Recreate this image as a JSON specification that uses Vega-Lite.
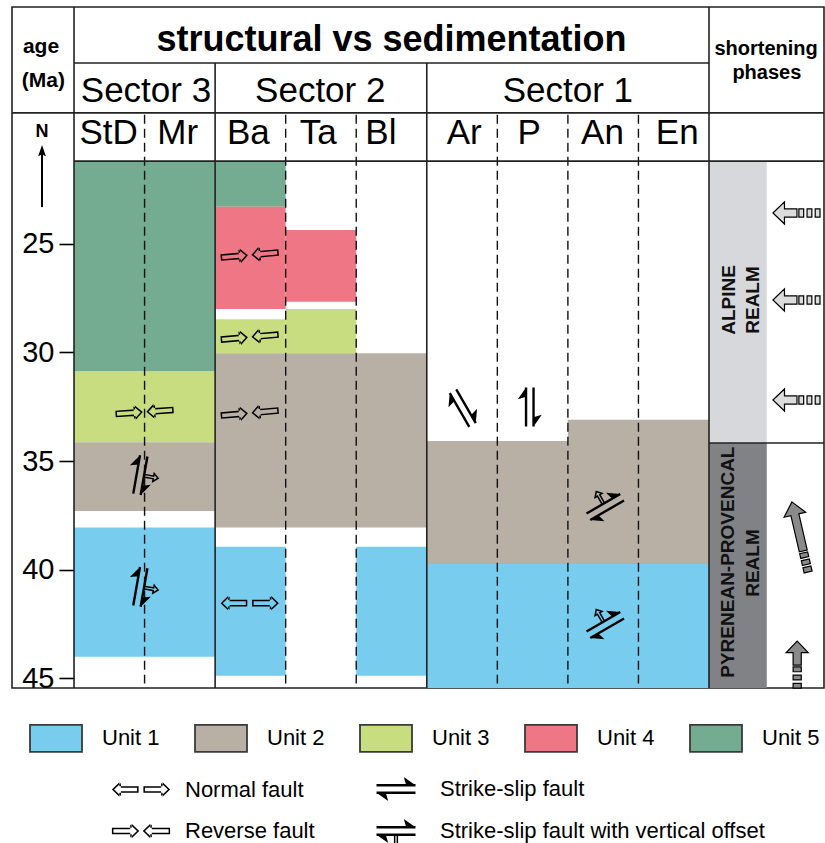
{
  "$schema": "https://vega.github.io/schema/vega-lite/v6.json",
  "width": 812,
  "height": 681,
  "autosize": {"type": "none"},
  "padding": {"left": 12, "top": 7, "right": 1, "bottom": 155},
  "background": "white",
  "config": {
    "view": {"stroke": "#222", "strokeWidth": 1.6},
    "font": "Liberation Sans",
    "axisY": {"domain": false, "grid": false, "tickColor": "black", "tickWidth": 1.6, "tickSize": 15, "labelFontSize": 29, "labelColor": "black", "labelPadding": 5, "labelFont": "Liberation Sans"}
  },
  "datasets": {
    "units": [
      {"unit": "Unit 5", "col": 0, "col2": 2, "age": 21.18, "age2": 30.88},
      {"unit": "Unit 3", "col": 0, "col2": 2, "age": 30.88, "age2": 34.14},
      {"unit": "Unit 2", "col": 0, "col2": 2, "age": 34.14, "age2": 37.3},
      {"unit": "Unit 1", "col": 0, "col2": 2, "age": 38.07, "age2": 44.02},
      {"unit": "Unit 5", "col": 2, "col2": 3, "age": 21.18, "age2": 23.28},
      {"unit": "Unit 4", "col": 2, "col2": 3, "age": 23.28, "age2": 28.0},
      {"unit": "Unit 3", "col": 2, "col2": 3, "age": 28.47, "age2": 30.04},
      {"unit": "Unit 4", "col": 3, "col2": 4, "age": 24.35, "age2": 27.66},
      {"unit": "Unit 3", "col": 3, "col2": 4, "age": 28.0, "age2": 30.04},
      {"unit": "Unit 2", "col": 2, "col2": 5, "age": 30.04, "age2": 38.07},
      {"unit": "Unit 1", "col": 2, "col2": 3, "age": 38.95, "age2": 44.9},
      {"unit": "Unit 1", "col": 4, "col2": 5, "age": 38.95, "age2": 44.9},
      {"unit": "Unit 2", "col": 5, "col2": 7, "age": 34.08, "age2": 39.75},
      {"unit": "Unit 2", "col": 7, "col2": 9, "age": 33.1, "age2": 39.75},
      {"unit": "Unit 1", "col": 5, "col2": 9, "age": 39.75, "age2": 45.46}
    ],
    "realms": [
      {"realm": "Alpine", "col": 9, "col2": 9.819, "age": 21.18, "age2": 34.17},
      {"realm": "Pyrenean-Provencal", "col": 9, "col2": 9.819, "age": 34.17, "age2": 45.46}
    ],
    "frame": [
      {"col": 0, "col2": 0, "age": 14.08, "age2": 45.46},
      {"col": 9, "col2": 9, "age": 14.08, "age2": 45.46},
      {"col": 2, "col2": 2, "age": 16.66, "age2": 45.46},
      {"col": 5, "col2": 5, "age": 16.66, "age2": 45.46},
      {"col": 0, "col2": 9, "age": 16.66, "age2": 16.66},
      {"col": -0.879, "col2": 10.63, "age": 18.96, "age2": 18.96},
      {"col": 0, "col2": 10.63, "age": 21.18, "age2": 21.18},
      {"col": 9, "col2": 10.63, "age": 34.17, "age2": 34.17}
    ],
    "boundaries": [
      {"col": 1, "age": 19.05, "age2": 45.25},
      {"col": 3, "age": 19.05, "age2": 45.25},
      {"col": 4, "age": 19.05, "age2": 45.25},
      {"col": 6, "age": 19.05, "age2": 45.25},
      {"col": 7, "age": 19.05, "age2": 45.25},
      {"col": 8, "age": 19.05, "age2": 45.25}
    ],
    "headers": [
      {"text": "structural vs sedimentation", "level": "title", "col": 4.5, "age": 15.6},
      {"text": "Sector 3", "level": "sector", "col": 1.02, "age": 17.96},
      {"text": "Sector 2", "level": "sector", "col": 3.49, "age": 17.96},
      {"text": "Sector 1", "level": "sector", "col": 7.0, "age": 17.96},
      {"text": "StD", "level": "site", "col": 0.49, "age": 19.88},
      {"text": "Mr", "level": "site", "col": 1.47, "age": 19.88},
      {"text": "Ba", "level": "site", "col": 2.47, "age": 19.88},
      {"text": "Ta", "level": "site", "col": 3.46, "age": 19.88},
      {"text": "Bl", "level": "site", "col": 4.35, "age": 19.88},
      {"text": "Ar", "level": "site", "col": 5.53, "age": 19.88},
      {"text": "P", "level": "site", "col": 6.45, "age": 19.88},
      {"text": "An", "level": "site", "col": 7.49, "age": 19.88},
      {"text": "En", "level": "site", "col": 8.55, "age": 19.88},
      {"text": "age", "level": "agehead", "col": -0.468, "age": 15.92},
      {"text": "(Ma)", "level": "agehead", "col": -0.435, "age": 17.49},
      {"text": "shortening", "level": "phases", "col": 9.81, "age": 16.01},
      {"text": "phases", "level": "phases", "col": 9.82, "age": 17.11},
      {"text": "N", "level": "north", "col": -0.4536, "age": 19.82},
      {"text": "ALPINE", "level": "realm", "col": 9.289, "age": 27.58},
      {"text": "REALM", "level": "realm", "col": 9.621, "age": 27.58},
      {"text": "PYRENEAN-PROVENCAL", "level": "realm", "col": 9.264, "age": 39.66},
      {"text": "REALM", "level": "realm", "col": 9.618, "age": 39.7}
    ],
    "north": [
      {"col": -0.4536, "age": 20.76, "age2": 23.3}
    ],
    "faults": [
      {"fault": "Reverse fault", "col": 1.0, "age": 32.74, "angle": -4},
      {"fault": "Reverse fault", "col": 2.49, "age": 25.51, "angle": -5},
      {"fault": "Reverse fault", "col": 2.49, "age": 29.29, "angle": -5},
      {"fault": "Reverse fault", "col": 2.49, "age": 32.79, "angle": -5},
      {"fault": "Normal fault", "col": 2.49, "age": 41.55, "angle": 0},
      {"fault": "Strike-slip fault with vertical offset", "col": 0.94, "age": 35.65, "angle": 280},
      {"fault": "Strike-slip fault with vertical offset", "col": 0.94, "age": 40.8, "angle": 280},
      {"fault": "Strike-slip fault with vertical offset", "col": 7.53, "age": 37.12, "angle": 150},
      {"fault": "Strike-slip fault with vertical offset", "col": 7.53, "age": 42.56, "angle": 150},
      {"fault": "Strike-slip fault", "col": 5.51, "age": 32.56, "angle": 60},
      {"fault": "Strike-slip fault", "col": 6.46, "age": 32.51, "angle": 270}
    ],
    "push": [
      {"realm": "Alpine", "col": 10.24, "age": 23.57, "angle": 0},
      {"realm": "Alpine", "col": 10.24, "age": 27.58, "angle": 0},
      {"realm": "Alpine", "col": 10.24, "age": 32.19, "angle": 0},
      {"realm": "Pyrenean-Provencal", "col": 10.29, "age": 38.5, "angle": 77},
      {"realm": "Pyrenean-Provencal", "col": 10.25, "age": 44.38, "angle": 90}
    ]
  },
  "encoding": {
    "x": {"field": "col", "type": "quantitative", "scale": {"domain": [-0.879, 10.63], "nice": false, "zero": false}, "axis": null},
    "y": {"field": "age", "type": "quantitative", "scale": {"domain": [14.08, 45.46], "reverse": true, "nice": false, "zero": false}, "axis": {"values": [25, 30, 35, 40, 45], "title": null, "offset": -62}}
  },
  "layer": [
    {
      "data": {"name": "units"},
      "mark": {"type": "rect"},
      "encoding": {
        "x2": {"field": "col2"},
        "y2": {"field": "age2"},
        "color": {
          "field": "unit", "type": "nominal",
          "scale": {"domain": ["Unit 1", "Unit 2", "Unit 3", "Unit 4", "Unit 5"], "range": ["#78cdee", "#b8afa5", "#c8dd80", "#ef7684", "#74ac91"]},
          "legend": {
            "orient": "none", "legendX": 17, "legendY": 704, "direction": "horizontal", "columns": 5, "title": null,
            "symbolType": "M-1,-0.52H1V0.52H-1Z", "symbolSize": 2704, "symbolStrokeColor": "#3a3a3a", "symbolStrokeWidth": 1.8, "symbolOpacity": 1,
            "labelFontSize": 22, "labelColor": "black", "labelFont": "Liberation Sans", "labelOffset": 19, "columnPadding": 31, "padding": 0, "labelLimit": 200,
            "encode": {"symbols": {"update": {"stroke": {"value": "#3a3a3a"}, "strokeWidth": {"value": 1.8}}}}
          }
        }
      }
    },
    {
      "data": {"name": "realms"},
      "mark": {"type": "rect"},
      "encoding": {
        "x2": {"field": "col2"},
        "y2": {"field": "age2"},
        "fill": {"field": "realm", "type": "nominal", "scale": {"domain": ["Alpine", "Pyrenean-Provencal"], "range": ["#d6d8db", "#808285"]}, "legend": null}
      }
    },
    {
      "data": {"name": "boundaries"},
      "mark": {"type": "rule", "color": "#111", "strokeWidth": 1.4, "strokeDash": [9, 5]},
      "encoding": {"y2": {"field": "age2"}}
    },
    {
      "data": {"name": "frame"},
      "mark": {"type": "rule", "color": "#222", "strokeWidth": 1.6},
      "encoding": {"x2": {"field": "col2"}, "y2": {"field": "age2"}}
    },
    {
      "data": {"name": "headers"},
      "transform": [{"filter": "datum.level == 'title'"}],
      "mark": {"type": "text", "fontSize": 36, "fontWeight": "bold", "color": "black", "align": "center", "baseline": "middle"},
      "encoding": {"text": {"field": "text"}}
    },
    {
      "data": {"name": "headers"},
      "transform": [{"filter": "datum.level == 'sector' || datum.level == 'site'"}],
      "mark": {"type": "text", "fontSize": 35, "color": "black", "align": "center", "baseline": "middle"},
      "encoding": {"text": {"field": "text"}}
    },
    {
      "data": {"name": "headers"},
      "transform": [{"filter": "datum.level == 'agehead'"}],
      "mark": {"type": "text", "fontSize": 21, "fontWeight": "bold", "color": "black", "align": "center", "baseline": "middle"},
      "encoding": {"text": {"field": "text"}}
    },
    {
      "data": {"name": "headers"},
      "transform": [{"filter": "datum.level == 'phases'"}],
      "mark": {"type": "text", "fontSize": 20, "fontWeight": "bold", "color": "black", "align": "center", "baseline": "middle"},
      "encoding": {"text": {"field": "text"}}
    },
    {
      "data": {"name": "headers"},
      "transform": [{"filter": "datum.level == 'north'"}],
      "mark": {"type": "text", "fontSize": 18, "fontWeight": "bold", "color": "black", "align": "center", "baseline": "middle"},
      "encoding": {"text": {"field": "text"}}
    },
    {
      "data": {"name": "headers"},
      "transform": [{"filter": "datum.level == 'realm'"}],
      "mark": {"type": "text", "fontSize": 19, "fontWeight": "bold", "color": "#111", "align": "center", "baseline": "middle", "angle": 270},
      "encoding": {"text": {"field": "text"}}
    },
    {
      "data": {"name": "north"},
      "mark": {"type": "rule", "color": "black", "strokeWidth": 2},
      "encoding": {"y2": {"field": "age2"}}
    },
    {
      "data": {"name": "north"},
      "mark": {"type": "point", "shape": "M0,-1L0.55,0.6L0,0.35L-0.55,0.6Z", "size": 196, "filled": true, "fill": "black", "opacity": 1}
    },
    {
      "data": {"name": "faults"},
      "mark": {"type": "point", "filled": true, "fill": "black", "strokeWidth": 0, "opacity": 1, "size": 3600},
      "encoding": {
        "shape": {
          "field": "fault", "type": "nominal",
          "scale": {
            "domain": ["Normal fault", "Strike-slip fault", "Reverse fault", "Strike-slip fault with vertical offset"],
            "range": [
              "M-0.97,0L-0.72,-0.24L-0.72,-0.11L-0.08,-0.11L-0.08,0.11L-0.72,0.11L-0.72,0.24ZM-0.898,0L-0.67,0.219L-0.67,0.06L-0.13,0.06L-0.13,-0.06L-0.67,-0.06L-0.67,-0.219ZM0.97,0L0.72,-0.24L0.72,-0.11L0.08,-0.11L0.08,0.11L0.72,0.11L0.72,0.24ZM0.898,0L0.67,0.219L0.67,0.06L0.13,0.06L0.13,-0.06L0.67,-0.06L0.67,-0.219Z",
              "M-0.65,-0.165H0.65V-0.085H-0.65ZM-0.65,0.085H0.65V0.165H-0.65ZM0.65,-0.125L0.34,-0.125L0.26,-0.4ZM-0.65,0.125L-0.34,0.125L-0.26,0.4Z",
              "M-0.06,0L-0.31,-0.24L-0.31,-0.11L-0.97,-0.11L-0.97,0.11L-0.31,0.11L-0.31,0.24ZM-0.132,0L-0.36,0.219L-0.36,0.06L-0.92,0.06L-0.92,-0.06L-0.36,-0.06L-0.36,-0.219ZM0.06,0L0.31,-0.24L0.31,-0.11L0.97,-0.11L0.97,0.11L0.31,0.11L0.31,0.24ZM0.132,0L0.36,0.219L0.36,0.06L0.92,0.06L0.92,-0.06L0.36,-0.06L0.36,-0.219Z",
              "M-0.65,-0.165H0.65V-0.085H-0.65ZM-0.65,0.085H0.65V0.165H-0.65ZM0.65,-0.125L0.34,-0.125L0.26,-0.4ZM-0.65,0.125L-0.34,0.125L-0.26,0.4ZM-0.07,0.165L-0.07,0.42L-0.19,0.42L0,0.64L0.19,0.42L0.07,0.42L0.07,0.165L0.02,0.165L0.02,0.47L0.08,0.47L0,0.563L-0.08,0.47L-0.02,0.47L-0.02,0.165Z"
            ]
          },
          "legend": {
            "orient": "none", "legendX": 99, "legendY": 752, "direction": "horizontal", "columns": 2, "title": null,
            "symbolSize": 3600, "symbolFillColor": "black", "symbolStrokeWidth": 0, "symbolOpacity": 1,
            "labelFontSize": 22, "labelColor": "black", "labelFont": "Liberation Sans", "labelOffset": 14, "columnPadding": 51, "rowPadding": -40, "padding": 0, "labelLimit": 500,
            "encode": {"symbols": {"update": {"fill": {"value": "black"}, "strokeWidth": {"value": 0}}}}
          }
        },
        "angle": {"field": "angle", "type": "quantitative", "scale": null}
      }
    },
    {
      "data": {"name": "push"},
      "transform": [{"filter": "datum.realm == 'Alpine'"}],
      "mark": {"type": "point", "filled": true, "fill": "#dcdcdc", "stroke": "black", "strokeWidth": 1.2, "opacity": 1, "size": 2304,
        "shape": "M-0.98,0L-0.5,-0.46L-0.5,-0.17L0.02,-0.17L0.02,0.17L-0.5,0.17L-0.5,0.46ZM0.1,-0.17H0.3V0.17H0.1ZM0.44,-0.17H0.64V0.17H0.44ZM0.78,-0.17H0.98V0.17H0.78Z"},
      "encoding": {"angle": {"field": "angle", "type": "quantitative", "scale": null}}
    },
    {
      "data": {"name": "push"},
      "transform": [{"filter": "datum.realm == 'Pyrenean-Provencal' && datum.age < 41"}],
      "mark": {"type": "point", "filled": true, "fill": "#8a8a8a", "stroke": "black", "strokeWidth": 1.2, "opacity": 1, "size": 2304,
        "shape": "M-1.5,0L-0.95,-0.46L-0.95,-0.17L0.6,-0.17L0.6,0.17L-0.95,0.17L-0.95,0.46ZM0.68,-0.17H0.88V0.17H0.68ZM0.98,-0.17H1.18V0.17H0.98ZM1.28,-0.17H1.5V0.17H1.28Z"},
      "encoding": {"angle": {"field": "angle", "type": "quantitative", "scale": null}}
    },
    {
      "data": {"name": "push"},
      "transform": [{"filter": "datum.realm == 'Pyrenean-Provencal' && datum.age >= 41"}],
      "mark": {"type": "point", "filled": true, "fill": "#8a8a8a", "stroke": "black", "strokeWidth": 1.2, "opacity": 1, "size": 2304,
        "shape": "M-0.98,0L-0.5,-0.46L-0.5,-0.17L0.02,-0.17L0.02,0.17L-0.5,0.17L-0.5,0.46ZM0.1,-0.17H0.3V0.17H0.1ZM0.44,-0.17H0.64V0.17H0.44ZM0.78,-0.17H0.98V0.17H0.78Z"},
      "encoding": {"angle": {"field": "angle", "type": "quantitative", "scale": null}}
    }
  ]
}
